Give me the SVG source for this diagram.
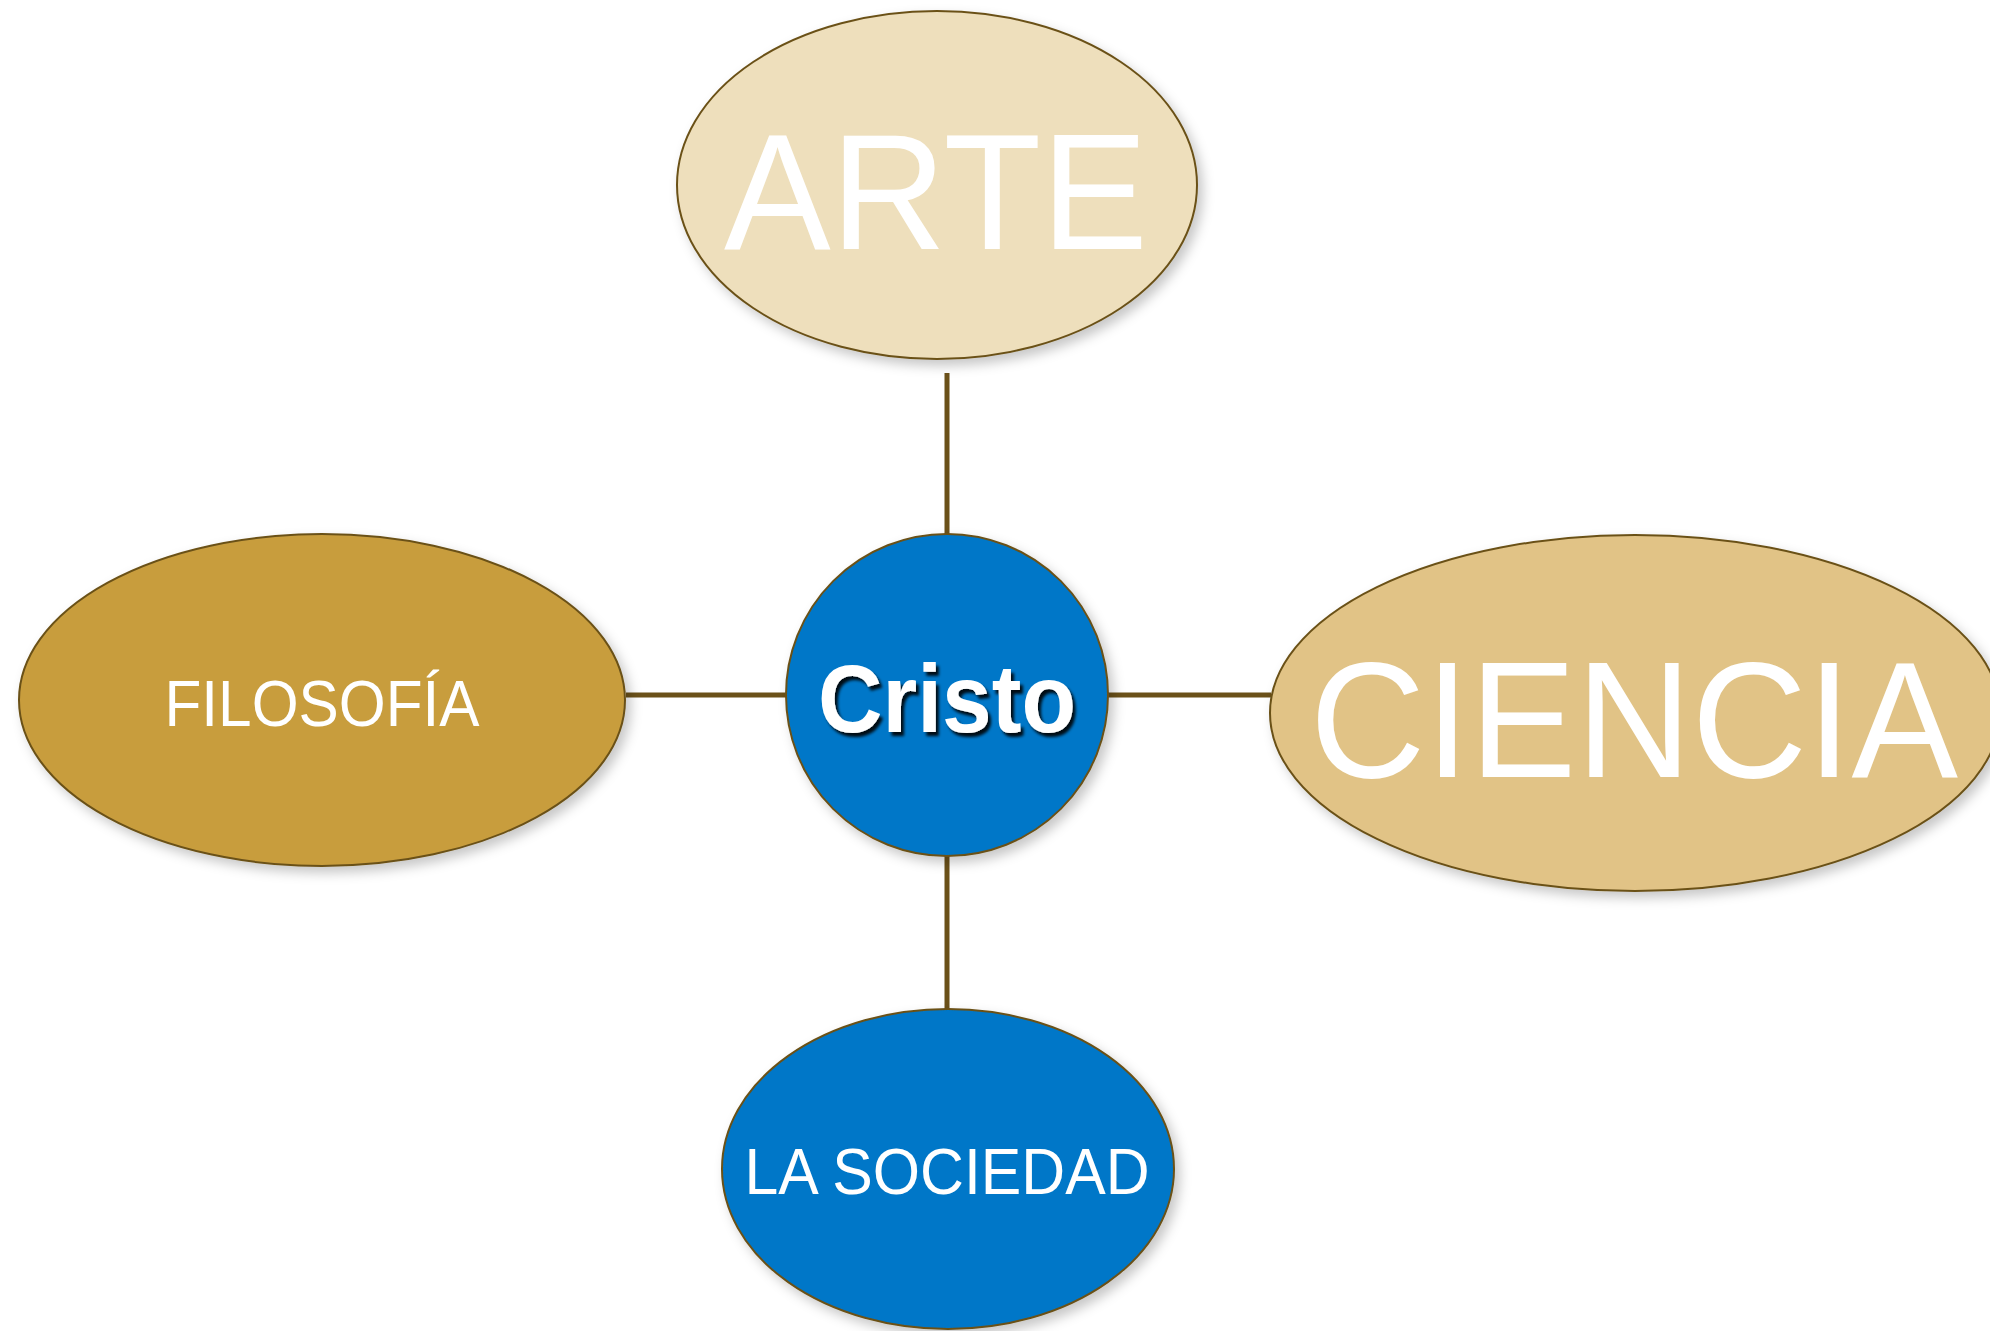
<svg xmlns="http://www.w3.org/2000/svg" width="1990" height="1331" viewBox="0 0 1990 1331">
  <style>
    .node { stroke: #6b5119; stroke-width: 2; }
    .conn { stroke: #6b5119; stroke-width: 5; fill: none; }
    .lbl { font-family: "Liberation Sans", Arial, sans-serif; fill: #ffffff; text-anchor: middle; }
    .big { font-size: 165px; }
    .mid { font-size: 64px; }
    .bold { font-size: 97px; font-weight: bold; }
  </style>
  <defs>
    <filter id="shadow" x="-10%" y="-10%" width="125%" height="125%">
      <feDropShadow dx="5" dy="6" stdDeviation="6" flood-color="#000000" flood-opacity="0.22"/>
    </filter>
    <filter id="tshadow" x="-10%" y="-20%" width="120%" height="150%">
      <feDropShadow dx="3" dy="4" stdDeviation="1.5" flood-color="#000000" flood-opacity="0.9"/>
    </filter>
  </defs>
  <rect x="0" y="0" width="1990" height="1331" fill="#ffffff"/>

  <g id="connectors">
    <line class="conn" x1="947" y1="373" x2="947" y2="535"/>
    <line class="conn" x1="626" y1="695" x2="786" y2="695"/>
    <line class="conn" x1="1108" y1="695" x2="1271" y2="695"/>
    <line class="conn" x1="947" y1="856" x2="947" y2="1009"/>
  </g>

  <g id="node-arte">
    <ellipse class="node" cx="937" cy="185" rx="260" ry="174" fill="#eedfbc" filter="url(#shadow)"/>
    <text class="lbl big" x="936" y="249" textLength="424" lengthAdjust="spacingAndGlyphs">ARTE</text>
  </g>

  <g id="node-filosofia">
    <ellipse class="node" cx="322" cy="700" rx="303" ry="166" fill="#c89d3e" filter="url(#shadow)"/>
    <text class="lbl mid" x="322" y="726" textLength="315" lengthAdjust="spacingAndGlyphs">FILOSOFÍA</text>
  </g>

  <g id="node-ciencia">
    <ellipse class="node" cx="1635" cy="713" rx="365" ry="178" fill="#e1c386" filter="url(#shadow)"/>
    <text class="lbl big" x="1634" y="777" textLength="648" lengthAdjust="spacingAndGlyphs">CIENCIA</text>
  </g>

  <g id="node-sociedad">
    <ellipse class="node" cx="948" cy="1169" rx="226" ry="160" fill="#0077c8" filter="url(#shadow)"/>
    <text class="lbl mid" x="947" y="1194" textLength="405" lengthAdjust="spacingAndGlyphs">LA SOCIEDAD</text>
  </g>

  <g id="node-cristo">
    <circle class="node" cx="947" cy="695" r="161" fill="#0077c8" filter="url(#shadow)"/>
    <text class="lbl bold" x="947" y="732" textLength="258" lengthAdjust="spacingAndGlyphs" filter="url(#tshadow)">Cristo</text>
  </g>
</svg>
